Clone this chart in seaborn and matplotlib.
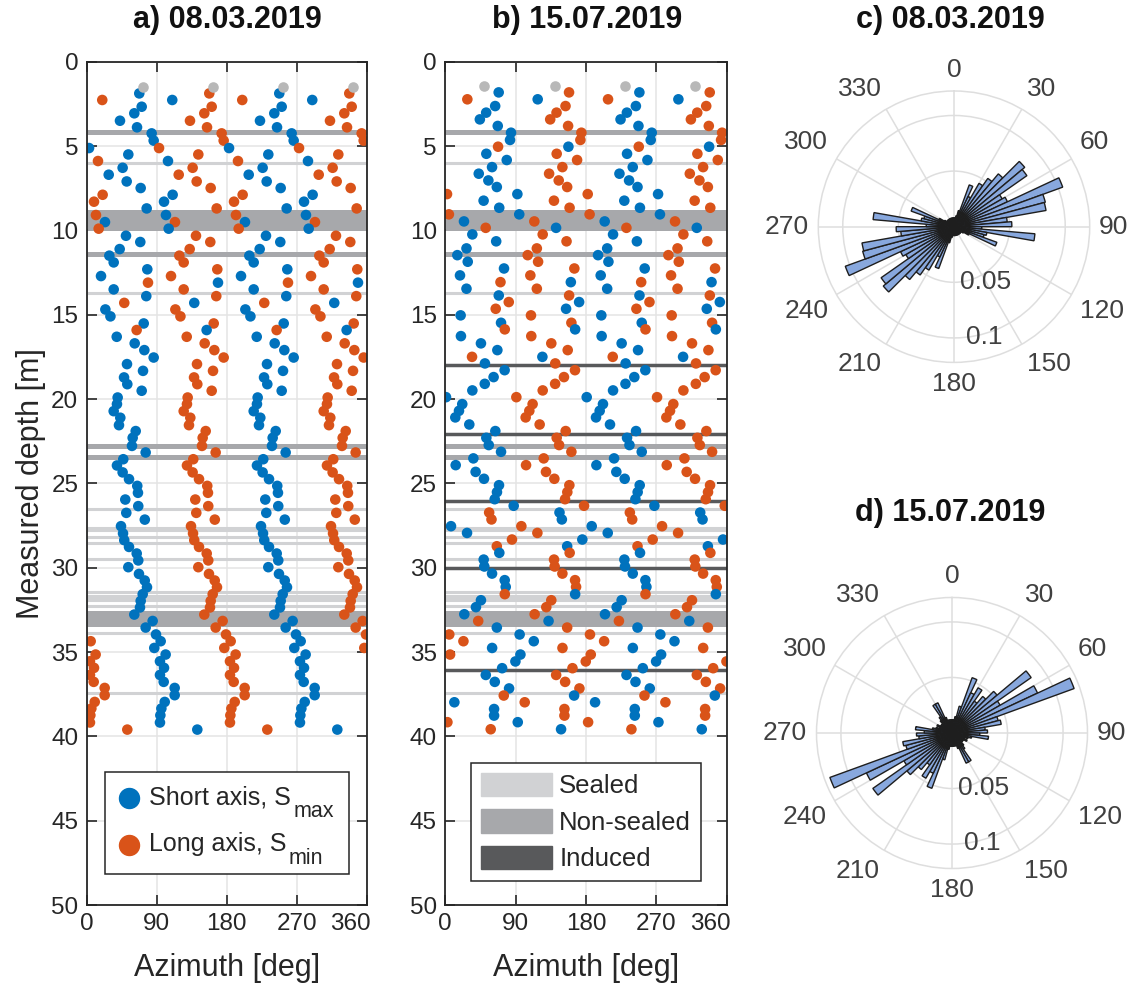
import numpy as np
import pandas as pd
import matplotlib
matplotlib.use("Agg")
import matplotlib.pyplot as plt
from matplotlib.lines import Line2D
from matplotlib.patches import Patch, Rectangle
from matplotlib.transforms import ScaledTranslation
import seaborn as sns

# ---------------- data ----------------
# Borehole breakout short-axis (S_max) azimuths per measured depth
a_depth = [1.88, 2.27, 2.67, 3.06, 3.50, 3.89, 4.25, 4.68, 5.12, 5.50, 5.89, 6.29, 6.70, 7.10,
           7.49, 7.89, 8.30, 8.70, 9.09, 9.51, 9.90, 10.32, 10.69, 11.11, 11.50, 11.90, 12.31,
           12.71, 13.10, 13.50, 13.90, 14.30, 14.69, 15.10, 15.52, 15.91, 16.31, 16.70, 17.10,
           17.54, 17.93, 18.33, 18.72, 19.12, 19.51, 19.91, 20.30, 20.72, 21.11, 21.55, 21.90,
           22.30, 22.78, 23.17, 23.57, 23.94, 24.35, 24.75, 25.15, 25.56, 25.96, 26.35, 26.75,
           27.15, 27.54, 27.97, 28.37, 28.77, 29.16, 29.57, 29.97, 30.37, 30.76, 31.16, 31.57,
           31.97, 32.36, 32.78, 33.16, 33.55, 33.96, 34.36, 34.76, 35.15, 35.55, 35.94, 36.36,
           36.77, 37.13, 37.56, 37.96, 38.35, 38.75, 39.18, 39.60]
a_smax = [67.6, 110.0, 70.7, 61.2, 42.8, 64.7, 83.5, 86.1, 3.0, 53.5, 104.5, 46.2, 28.3, 51.4,
          69.4, 110.5, 99.4, 77.1, 101.9, 23.5, 105.4, 50.5, 68.9, 42.4, 29.1, 34.7, 77.9,
          18.4, 168.8, 34.7, 76.6, 138.3, 24.0, 30.5, 73.3, 154.2, 38.6, 61.7, 74.1,
          86.1, 51.8, 72.4, 48.0, 52.2, 70.7, 39.8, 38.9, 34.7, 43.2, 41.5, 63.0,
          59.1, 58.2, 75.8, 47.0, 38.9, 46.2, 54.4, 65.0, 65.9, 49.6, 66.3, 50.9,
          74.7, 44.1, 46.7, 48.3, 54.4, 64.3, 66.3, 53.5, 67.2, 74.6, 77.5, 72.0,
          69.4, 68.5, 61.2, 84.8, 75.8, 89.1, 95.1, 86.9, 101.5, 94.2, 99.4, 94.2,
          99.0, 113.1, 113.1, 100.3, 96.0, 94.7, 94.2, 142.2]

b_depth = [1.82, 2.23, 2.63, 3.02, 3.42, 3.81, 4.21, 4.64, 5.04, 5.46, 5.83, 6.25, 6.64, 7.04,
           7.43, 7.85, 8.24, 8.66, 9.05, 9.47, 9.85, 10.24, 10.65, 11.07, 11.47, 11.86, 12.26,
           12.67, 13.07, 13.46, 13.86, 14.25, 14.65, 15.04, 15.48, 15.87, 16.27, 16.70, 17.10,
           17.50, 17.89, 18.29, 18.70, 19.10, 19.49, 19.89, 20.30, 20.70, 21.09, 21.51, 21.90,
           22.30, 22.73, 23.13, 23.52, 23.92, 24.32, 24.73, 25.11, 25.52, 25.94, 26.33, 26.73,
           27.14, 27.54, 27.94, 28.33, 28.73, 29.12, 29.52, 29.93, 30.35, 30.74, 31.14, 31.57,
           31.93, 32.34, 32.76, 33.16, 33.55, 33.96, 34.36, 34.76, 35.15, 35.56, 35.96, 36.36,
           36.77, 37.16, 37.58, 37.98, 38.38, 38.77, 39.16, 39.58]
b_smax = [68.3, 118.2, 63.8, 52.3, 44.2, 67.1, 84.1, 82.8, 157.5, 52.5, 78.6, 59.8, 42.8, 55.1,
          65.9, 92.2, 49.0, 69.0, 94.6, 23.9, 141.7, 34.6, 65.1, 27.1, 15.4, 28.7, 75.1,
          18.8, 160.6, 27.1, 68.4, 171.2, 154.5, 19.6, 71.3, 166.1, 20.0, 45.6, 66.6,
          124.2, 50.7, 75.9, 61.8, 50.5, 34.6, 0.9, 21.7, 17.5, 12.8, 30.7, 64.0,
          52.5, 55.6, 71.3, 35.9, 13.3, 38.8, 49.5, 68.7, 66.1, 63.2, 87.5, 146.1,
          149.1, 7.3, 27.8, 175.3, 155.9, 69.1, 49.1, 49.9, 59.8, 76.0, 77.3, 166.1,
          45.6, 39.2, 24.3, 132.1, 65.9, 95.1, 113.2, 59.9, 96.1, 89.7, 72.7, 51.8,
          63.3, 81.6, 164.8, 11.6, 62.4, 62.4, 92.7, 148.1]

# Unclassified breakout at the top of each log (depth, azimuth)
a_unclassified = (1.48, 72.0)
b_unclassified = (1.42, 50.0)

# Fracture depths [m]
sealed_depth = [5.99, 13.74, 26.50, 27.63, 27.79, 28.17, 28.53, 29.51, 31.46, 31.65,
                31.85, 31.94, 32.28, 33.90, 37.42]
nonsealed_depth = [4.15, 8.89, 9.15, 9.40, 9.60, 9.87, 11.41, 22.78, 23.43, 32.71,
                   32.95, 33.15, 33.36]
induced_depth = [17.99, 22.06, 26.07, 29.99, 36.08]

# Rose diagrams: probability per 5-degree bin between 0 and 180 deg (axial data)
rose_bin_width = 5
rose_c_half = [0.008, 0.008, 0.010, 0.015, 0.040, 0.030, 0.045, 0.053, 0.062, 0.083,
               0.080, 0.050, 0.053, 0.104, 0.085, 0.084, 0.048, 0.052, 0.025, 0.073,
               0.030, 0.028, 0.041, 0.015, 0.010, 0.008, 0.008, 0.008, 0.008, 0.008,
               0.008, 0.008, 0.008, 0.008, 0.008, 0.008]
rose_d_half = [0.012, 0.012, 0.015, 0.025, 0.053, 0.040, 0.047, 0.035, 0.043, 0.053,
               0.087, 0.050, 0.085, 0.117, 0.043, 0.045, 0.030, 0.032, 0.025, 0.033,
               0.018, 0.015, 0.012, 0.015, 0.012, 0.012, 0.012, 0.015, 0.018, 0.030,
               0.030, 0.015, 0.012, 0.012, 0.012, 0.012]

titles = ["a) 08.03.2019", "b) 15.07.2019", "c) 08.03.2019", "d) 15.07.2019"]
x_ticks = [0, 90, 180, 270, 360]
y_ticks = list(range(0, 51, 5))
legend_a_main = ["Short axis, S", "Long axis, S"]
legend_a_sub = ["max", "min"]
legend_b_labels = ["Sealed", "Non-sealed", "Induced"]

# ---------------- style ----------------
sns.set_theme(style="white")
plt.rcParams["font.family"] = ["Liberation Sans", "DejaVu Sans"]

BLUE = "#0072BD"
ORANGE = "#D95319"
GREY_PT = "#b8b8b8"
C_SEALED = "#d1d2d4"
C_NONSEALED = "#a7a8ab"
C_INDUCED = "#58595b"
TXT = "#262626"
ROSE_FACE = "#88a8de"

W, H = 1132, 988
fig = plt.figure(figsize=(W / 100, H / 100), dpi=100)


def fx(x):
    return x / W


def fy(y):
    return 1 - y / H


def px_axes(left, top, right, bottom, **kw):
    return fig.add_axes([left / W, 1 - bottom / H, (right - left) / W, (bottom - top) / H], **kw)


def breakout_frame(depth, smax):
    """Each breakout is axial: short axis at s and s+180, long axis perpendicular."""
    rows = []
    for d, s in zip(depth, smax):
        for off in (0, 180):
            rows.append((d, (s + off) % 360, "short"))
        for off in (90, 270):
            rows.append((d, (s + off) % 360, "long"))
    return pd.DataFrame(rows, columns=["depth", "azimuth", "axis"])


def depth_panel(ax, depth, smax, uncl, with_induced):
    ax.set_xlim(0, 360)
    ax.set_ylim(50, 0)
    ax.set_xticks(x_ticks)
    ax.set_yticks(y_ticks)
    ax.grid(True, color="#e4e4e4", lw=1.1)
    ax.set_axisbelow(True)
    ax.hlines(sealed_depth, 0, 360, color=C_SEALED, lw=2.2, zorder=1.5)
    ax.hlines(nonsealed_depth, 0, 360, color=C_NONSEALED, lw=3.6, zorder=1.6)
    if with_induced:
        ax.hlines(induced_depth, 0, 360, color=C_INDUCED, lw=2.5, zorder=1.7)
    df = breakout_frame(depth, smax)
    sns.scatterplot(data=df, x="azimuth", y="depth", hue="axis",
                    palette={"short": BLUE, "long": ORANGE}, s=58, linewidth=0,
                    legend=False, ax=ax, zorder=3)
    ud, ua = uncl
    sns.scatterplot(x=[(ua + k * 90) % 360 for k in range(4)], y=[ud] * 4,
                    color=GREY_PT, s=58, linewidth=0, ax=ax, zorder=3)
    ax.set_xlabel("Azimuth [deg]", fontsize=22, color=TXT, labelpad=13)
    ax.set_ylabel("")
    ax.tick_params(direction="in", length=7, width=1.2, top=True, right=True,
                   bottom=True, left=True, colors=TXT, labelsize=17.5, pad=6)
    # keep the last azimuth label clear of the neighbouring panel
    last = ax.get_xticklabels()[-1]
    last.set_transform(last.get_transform() + ScaledTranslation(-0.16, 0, fig.dpi_scale_trans))
    for sp in ax.spines.values():
        sp.set_color(TXT)
        sp.set_linewidth(1.3)
        sp.set_zorder(5)


ax_a = px_axes(86.7, 61.7, 366.7, 905)
ax_b = px_axes(445.3, 61.7, 726.7, 905)
depth_panel(ax_a, a_depth, a_smax, a_unclassified, False)
depth_panel(ax_b, b_depth, b_smax, b_unclassified, True)
ax_a.set_ylabel("Measured depth [m]", fontsize=22, color=TXT, labelpad=4)

# legend of panel a, laid out by hand so the S subscripts sit low as in MATLAB
fig.add_artist(Rectangle((fx(105), fy(874.3)), (349.3 - 105) / W, (874.3 - 771.7) / H,
                         transform=fig.transFigure, facecolor="white", edgecolor=TXT,
                         linewidth=1.1, zorder=10))
LEG_FS = 18
fig.canvas.draw()
renderer = fig.canvas.get_renderer()
for (row_y, color, main, sub) in zip([804, 850.7], [BLUE, ORANGE], legend_a_main, legend_a_sub):
    fig.add_artist(Line2D([fx(129)], [fy(row_y - 5.7)], marker="o", ls="", color=color,
                          markersize=14.4, transform=fig.transFigure, zorder=11))
    t = fig.text(fx(149.3), fy(row_y), main, fontsize=LEG_FS, color=TXT, va="baseline",
                 ha="left", zorder=11)
    w_main = t.get_window_extent(renderer).width
    fig.text(fx(149.3 + w_main + 2), fy(row_y + 13), sub, fontsize=15.5, color=TXT,
             va="baseline", ha="left", zorder=11)

leg_b = ax_b.legend(
    handles=[Patch(color=C_SEALED), Patch(color=C_NONSEALED), Patch(color=C_INDUCED)],
    labels=legend_b_labels,
    loc="lower center", bbox_to_anchor=(0.5, 0.0285), borderaxespad=0,
    fontsize=18.5, frameon=True, fancybox=False, edgecolor=TXT, framealpha=1,
    handlelength=2.75, handleheight=1.05, handletextpad=0.3, labelspacing=0.42,
    borderpad=0.38)
leg_b.get_frame().set_linewidth(1.1)
leg_b.set_zorder(10)


def rose_panel(cx, cy, R, half):
    rmax = 0.122
    ax = px_axes(cx - R, cy - R, cx + R, cy + R, projection="polar")
    ax.set_theta_zero_location("N")
    ax.set_theta_direction(-1)
    values = np.concatenate([half, half])  # axial: each azimuth also counts at +180
    edges = np.deg2rad(np.arange(0, 360, rose_bin_width))
    ax.bar(edges, values, width=np.deg2rad(rose_bin_width), align="edge", bottom=0,
           color=ROSE_FACE, edgecolor="#1e1e1e", linewidth=1.0, zorder=3)
    ax.set_ylim(0, rmax)
    ax.set_yticks([0.05, 0.1])
    ax.set_yticklabels([])
    ax.set_xticks(np.deg2rad(np.arange(0, 360, 30)))
    ax.set_xticklabels([])
    ax.grid(True, color="#dedede", lw=1.1)
    ax.set_axisbelow(True)
    ax.spines["polar"].set_color("#dedede")
    ax.spines["polar"].set_linewidth(1.1)
    ax.tick_params(length=0)
    for deg in range(0, 360, 30):
        s, c = np.sin(np.deg2rad(deg)), np.cos(np.deg2rad(deg))
        ha = "left" if s > 0.1 else ("right" if s < -0.1 else "center")
        va = "bottom" if c > 0.1 else ("top" if c < -0.1 else "center")
        ax.text(np.deg2rad(deg), rmax * 1.07, str(deg), ha=ha, va=va, fontsize=19,
                color="#404040", clip_on=False)
    for r in (0.05, 0.1):
        ax.text(np.deg2rad(174), r, str(r), ha="left", va="center", fontsize=19,
                color="#404040", zorder=4)
    return ax


rose_panel(954, 226.7, 135.7, rose_c_half)
rose_panel(952, 733, 135.5, rose_d_half)

for t, (x, y) in zip(titles, [(227, 20), (587, 20), (950, 20), (950, 513)]):
    fig.text(fx(x), fy(y), t, ha="center", va="center", fontsize=22,
             fontweight="bold", color="#111111")

fig.savefig("out.png", dpi=100)
